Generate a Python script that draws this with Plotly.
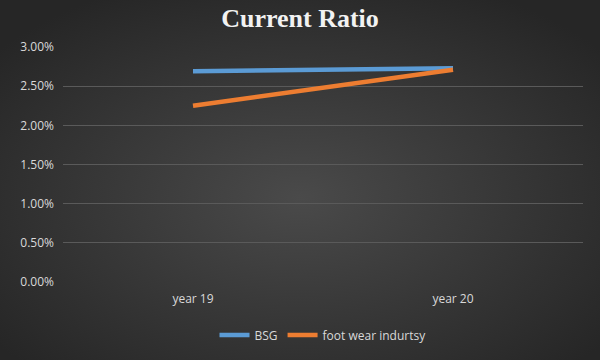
import plotly.graph_objects as go
import base64

categories = ["year 19", "year 20"]
bsg = [0.0269, 0.0273]
footwear = [0.0225, 0.0271]
tick_vals = [0, 0.005, 0.01, 0.015, 0.02, 0.025, 0.03]
tick_text = ["0.00%", "0.50%", "1.00%", "1.50%", "2.00%", "2.50%", "3.00%"]

W, H = 600, 360
ml, mr, mt, mb = 63, 17, 47, 78
pw, ph = W - ml - mr, H - mt - mb

svg = (
    f'<svg xmlns="http://www.w3.org/2000/svg" width="{W}" height="{H}" viewBox="0 0 {W} {H}" preserveAspectRatio="none">'
    '<defs><radialGradient id="g" cx="50%" cy="55%" r="65%">'
    '<stop offset="0%" stop-color="#4a4a4a"/><stop offset="100%" stop-color="#262626"/>'
    '</radialGradient></defs>'
    f'<rect width="{W}" height="{H}" fill="url(#g)"/></svg>'
)
src = "data:image/svg+xml;base64," + base64.b64encode(svg.encode()).decode()

fig = go.Figure()
fig.add_trace(go.Scatter(x=categories, y=bsg, mode="lines", name="BSG",
                         line=dict(color="#5b9bd5", width=4.5)))
fig.add_trace(go.Scatter(x=categories, y=footwear, mode="lines", name="foot wear indurtsy",
                         line=dict(color="#ed7d31", width=4.5)))

fig.update_layout(
    width=W, height=H,
    margin=dict(l=ml, r=mr, t=mt, b=mb, autoexpand=False),
    paper_bgcolor="#2a2a2a",
    plot_bgcolor="rgba(0,0,0,0)",
    images=[dict(source=src, xref="paper", yref="paper",
                 x=-ml / pw, y=1 + mt / ph, sizex=W / pw, sizey=H / ph,
                 xanchor="left", yanchor="top", sizing="stretch", layer="below")],
    title=dict(text="<b>Current Ratio</b>", x=0.5, xanchor="center", yref="container",
               y=1 - 18 / H, yanchor="middle",
               font=dict(family="Liberation Serif", size=26, color="#f2f2f2")),
    showlegend=True,
    legend=dict(orientation="h", x=0.5, xanchor="center", yref="container",
                y=25 / H, yanchor="middle",
                font=dict(family="Open Sans", size=12, color="#d9d9d9"),
                bgcolor="rgba(0,0,0,0)", itemwidth=30),
    xaxis=dict(type="category", range=[-0.5, 1.5], showgrid=False, zeroline=False,
               showline=False, ticks="", ticklabelstandoff=8,
               tickfont=dict(family="Open Sans", size=12, color="#d9d9d9")),
    yaxis=dict(range=[0, 0.03], tickvals=tick_vals, ticktext=tick_text,
               showgrid=True, gridcolor="#5a5a5a", gridwidth=1, zeroline=False,
               showline=False, ticks="", ticklabelstandoff=8,
               tickfont=dict(family="Open Sans", size=12, color="#d9d9d9")),
)

fig.write_html("out.html", config={"displayModeBar": False},
               post_script="document.body.style.margin='0';document.body.style.overflow='hidden';")
